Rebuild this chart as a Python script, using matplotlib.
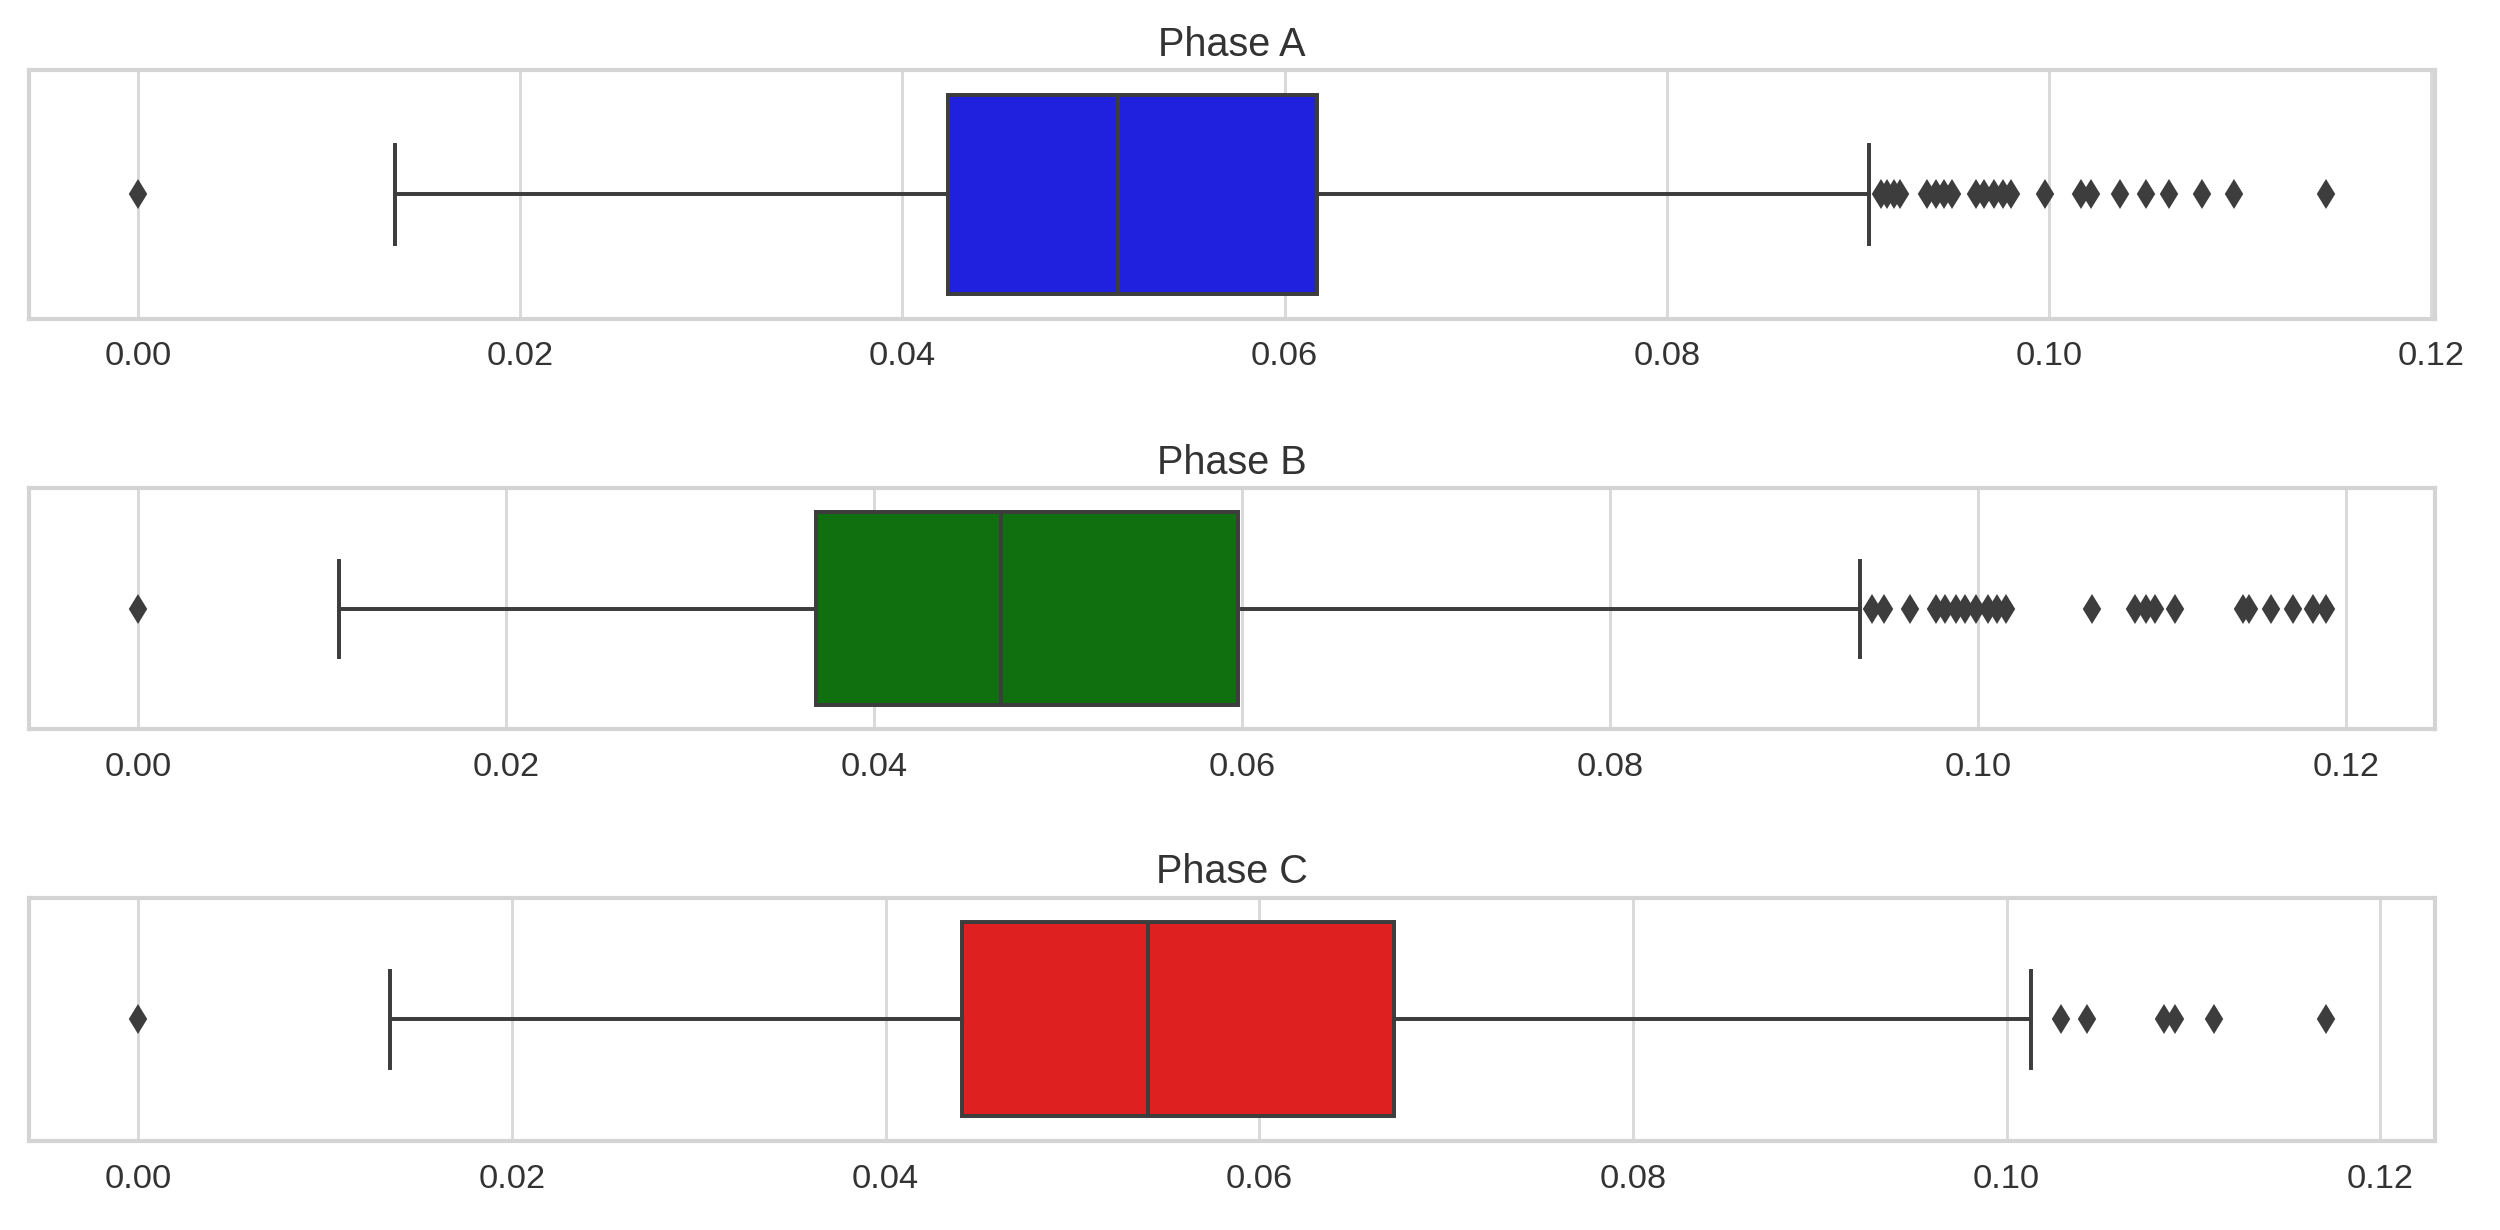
import matplotlib
matplotlib.use("Agg")
import matplotlib.pyplot as plt

# boxplot summary values, one list per phase
phases = ["Phase A", "Phase B", "Phase C"]
colors = ["#2020df", "#107010", "#df2020"]

# [whisker low, q1, median, q3, whisker high]
stats_a = [0.01343, 0.04236, 0.05129, 0.06171, 0.09056]
stats_b = [0.01092, 0.03682, 0.04687, 0.05978, 0.09357]
stats_c = [0.01349, 0.04407, 0.05407, 0.06722, 0.10130]

fliers_a = [0.0, 0.0912, 0.0915, 0.0919, 0.0922, 0.0936, 0.0941, 0.0945, 0.0949,
            0.0962, 0.0966, 0.0971, 0.0976, 0.0980, 0.0998, 0.1017, 0.1022,
            0.1037, 0.1051, 0.1063, 0.1080, 0.1097, 0.1145]
fliers_b = [0.0, 0.0942, 0.0949, 0.0963, 0.0977, 0.0982, 0.0988, 0.0993, 0.0999,
            0.1005, 0.1010, 0.1015, 0.1062, 0.1085, 0.1091, 0.1096, 0.1107,
            0.1144, 0.1147, 0.1159, 0.1171, 0.1182, 0.1189]
fliers_c = [0.0, 0.1029, 0.1043, 0.1084, 0.1090, 0.1111, 0.1171]

all_stats = [stats_a, stats_b, stats_c]
all_fliers = [fliers_a, fliers_b, fliers_c]

plt.rcParams['font.family'] = ['Liberation Sans', 'DejaVu Sans']

fig = plt.figure(figsize=(16.67, 8.2), dpi=150)
tops = [0.943, 0.603, 0.270]
bottoms = [0.741, 0.407, 0.0726]
left, right = 0.0115, 0.974

line_col = "#3d3d3d"
for i in range(3):
    ax = fig.add_axes([left, bottoms[i], right - left, tops[i] - bottoms[i]])
    lo, q1, med, q3, hi = all_stats[i]
    st = [dict(whislo=lo, q1=q1, med=med, q3=q3, whishi=hi, fliers=all_fliers[i])]
    ax.bxp(st, positions=[0], widths=0.8, vert=False, patch_artist=True,
           boxprops=dict(facecolor=colors[i], edgecolor=line_col, linewidth=1.9),
           medianprops=dict(color=line_col, linewidth=1.9),
           whiskerprops=dict(color=line_col, linewidth=1.9),
           capprops=dict(color=line_col, linewidth=1.9),
           flierprops=dict(marker="d", markerfacecolor=line_col, markeredgecolor=line_col,
                           markersize=8.5, linestyle="none"))
    ax.set_ylim(0.5, -0.5)
    ax.set_yticks([])
    ax.set_xticks([0.0, 0.02, 0.04, 0.06, 0.08, 0.10, 0.12])
    ax.set_xticklabels(["0.00", "0.02", "0.04", "0.06", "0.08", "0.10", "0.12"])
    ax.tick_params(axis="x", length=0, pad=11, labelsize=16.5, labelcolor="#333333")
    ax.grid(axis="x", color="#d9d9d9", linewidth=1.4)
    ax.set_axisbelow(True)
    for s in ax.spines.values():
        s.set_color("#d4d4d4")
        s.set_linewidth(2.0)
    ax.set_title(phases[i], fontsize=19, color="#333333", pad=7)

fig.savefig("out.png", dpi=150)
